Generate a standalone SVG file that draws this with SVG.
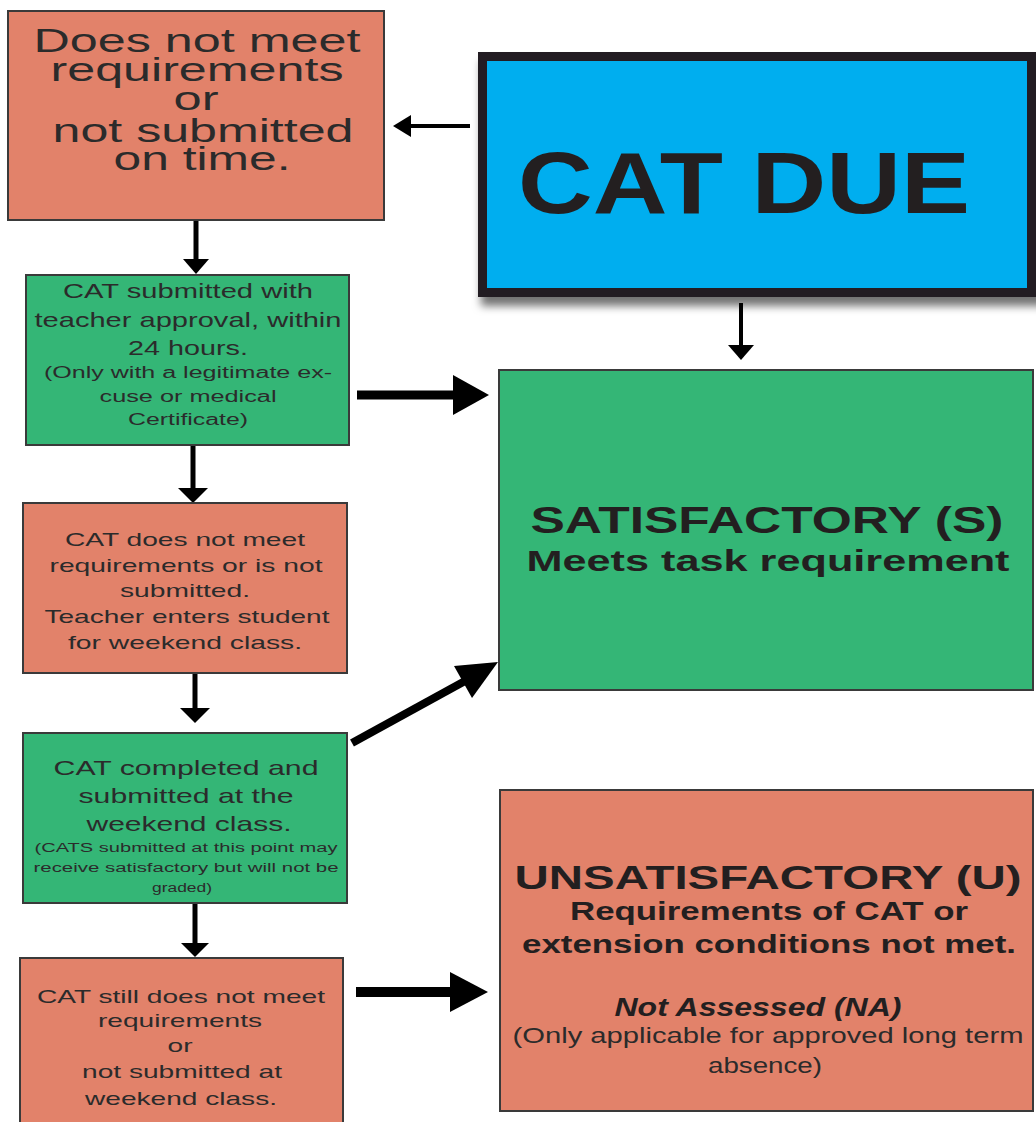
<svg xmlns="http://www.w3.org/2000/svg" width="1036" height="1122" viewBox="0 0 1036 1122">
<defs>
<filter id="shadow" x="-5%" y="-5%" width="115%" height="125%">
<feDropShadow dx="3" dy="9" stdDeviation="4" flood-color="#000" flood-opacity="0.55"/>
</filter>
</defs>
<style>
.salmon{fill:#E2826A;stroke:#3a3a3a;stroke-width:2}
.green{fill:#34B676;stroke:#3a3a3a;stroke-width:2}
text{font-family:"Liberation Sans",Arial,sans-serif;fill:#2b2b2b;text-anchor:middle}
.b{font-weight:bold;fill:#231F20}
.i{font-style:italic}
.ln{stroke:#000;fill:none}
.hd{fill:#000}
</style>
<rect width="1036" height="1122" fill="#fff"/>

<g id="connectors">
<line class="ln" x1="470" y1="126" x2="408" y2="126" stroke-width="4"/>
<polygon class="hd" points="393,126 411,115 411,137"/>
<line class="ln" x1="196" y1="220" x2="196" y2="262" stroke-width="5"/>
<polygon class="hd" points="196,274 183,259 209,259"/>
<line class="ln" x1="357" y1="395" x2="456" y2="395" stroke-width="9"/>
<polygon class="hd" points="489,395 453,375 453,415"/>
<line class="ln" x1="741" y1="303" x2="741" y2="347" stroke-width="4"/>
<polygon class="hd" points="741,360 728,345 754,345"/>
<line class="ln" x1="193" y1="445" x2="193" y2="490" stroke-width="5"/>
<polygon class="hd" points="193,503 178,488 208,488"/>
<line class="ln" x1="195" y1="668" x2="195" y2="710" stroke-width="5"/>
<polygon class="hd" points="195,723 180,708 210,708"/>
<line class="ln" x1="352" y1="743" x2="465" y2="681" stroke-width="8"/>
<polygon class="hd" points="498,662 454,666 472,698"/>
<line class="ln" x1="195" y1="903" x2="195" y2="945" stroke-width="5"/>
<polygon class="hd" points="195,957 181,943 209,943"/>
<line class="ln" x1="356" y1="992" x2="455" y2="992" stroke-width="10"/>
<polygon class="hd" points="488,992 450,972 450,1012"/>
</g>

<g id="node-not-met">
<rect class="salmon" x="8" y="11" width="376" height="209"/>
<text x="197" y="52" font-size="34" textLength="327" lengthAdjust="spacingAndGlyphs">Does not meet</text>
<text x="197" y="81" font-size="34" textLength="293" lengthAdjust="spacingAndGlyphs">requirements</text>
<text x="196" y="110" font-size="34" textLength="45" lengthAdjust="spacingAndGlyphs">or</text>
<text x="203" y="142" font-size="34" textLength="301" lengthAdjust="spacingAndGlyphs">not submitted</text>
<text x="202" y="170" font-size="34" textLength="177" lengthAdjust="spacingAndGlyphs">on time.</text>
</g>

<g id="node-cat-due">
<rect x="478" y="52" width="570" height="245" fill="#231F20" filter="url(#shadow)"/>
<rect x="487" y="61" width="540" height="227" fill="#00AEEF"/>
<text class="b" x="744" y="213" font-size="88" textLength="452" lengthAdjust="spacingAndGlyphs">CAT DUE</text>
</g>

<g id="node-24h">
<rect class="green" x="26" y="275" width="323" height="170"/>
<text x="188" y="298" font-size="21" textLength="250" lengthAdjust="spacingAndGlyphs">CAT submitted with</text>
<text x="188" y="327" font-size="21" textLength="307" lengthAdjust="spacingAndGlyphs">teacher approval, within</text>
<text x="188" y="355" font-size="21" textLength="120" lengthAdjust="spacingAndGlyphs">24 hours.</text>
<text x="188" y="378" font-size="16" textLength="288" lengthAdjust="spacingAndGlyphs">(Only with a legitimate ex-</text>
<text x="188" y="402" font-size="16" textLength="177" lengthAdjust="spacingAndGlyphs">cuse or medical</text>
<text x="188" y="425" font-size="16" textLength="120" lengthAdjust="spacingAndGlyphs">Certificate)</text>
</g>

<g id="node-satisfactory">
<rect class="green" x="499" y="370" width="534" height="320"/>
<text class="b" x="767" y="533" font-size="37" textLength="473" lengthAdjust="spacingAndGlyphs">SATISFACTORY (S)</text>
<text class="b" x="768" y="571" font-size="30" textLength="483" lengthAdjust="spacingAndGlyphs">Meets task requirement</text>
</g>

<g id="node-weekend-entry">
<rect class="salmon" x="23" y="503" width="324" height="170"/>
<text x="185" y="546" font-size="19" textLength="240" lengthAdjust="spacingAndGlyphs">CAT does not meet</text>
<text x="186" y="572" font-size="19" textLength="273" lengthAdjust="spacingAndGlyphs">requirements or is not</text>
<text x="185" y="597" font-size="19" textLength="130" lengthAdjust="spacingAndGlyphs">submitted.</text>
<text x="187" y="623" font-size="19" textLength="285" lengthAdjust="spacingAndGlyphs">Teacher enters student</text>
<text x="185" y="649" font-size="19" textLength="234" lengthAdjust="spacingAndGlyphs">for weekend class.</text>
</g>

<g id="node-weekend-done">
<rect class="green" x="23" y="733" width="324" height="170"/>
<text x="186" y="775" font-size="21" textLength="265" lengthAdjust="spacingAndGlyphs">CAT completed and</text>
<text x="186" y="803" font-size="21" textLength="215" lengthAdjust="spacingAndGlyphs">submitted at the</text>
<text x="189" y="831" font-size="21" textLength="205" lengthAdjust="spacingAndGlyphs">weekend class.</text>
<text x="186" y="852" font-size="12.5" textLength="303" lengthAdjust="spacingAndGlyphs">(CATS submitted at this point may</text>
<text x="186" y="872" font-size="12.5" textLength="305" lengthAdjust="spacingAndGlyphs">receive  satisfactory but will not be</text>
<text x="182" y="892" font-size="12.5" textLength="60" lengthAdjust="spacingAndGlyphs">graded)</text>
</g>

<g id="node-still-not-met">
<rect class="salmon" x="20" y="958" width="323" height="180"/>
<text x="181" y="1003" font-size="19" textLength="288" lengthAdjust="spacingAndGlyphs">CAT still does not meet</text>
<text x="180" y="1027" font-size="19" textLength="164" lengthAdjust="spacingAndGlyphs">requirements</text>
<text x="180" y="1052" font-size="19" textLength="25" lengthAdjust="spacingAndGlyphs">or</text>
<text x="182" y="1078" font-size="19" textLength="200" lengthAdjust="spacingAndGlyphs">not submitted at</text>
<text x="181" y="1105" font-size="19" textLength="192" lengthAdjust="spacingAndGlyphs">weekend class.</text>
</g>

<g id="node-unsatisfactory">
<rect class="salmon" x="500" y="790" width="533" height="321"/>
<text class="b" x="768" y="889" font-size="34" textLength="507" lengthAdjust="spacingAndGlyphs">UNSATISFACTORY (U)</text>
<text class="b" x="769" y="920" font-size="26" textLength="398" lengthAdjust="spacingAndGlyphs">Requirements of CAT or</text>
<text class="b" x="769" y="953" font-size="26" textLength="494" lengthAdjust="spacingAndGlyphs">extension conditions not met.</text>
<text class="b i" x="758" y="1016" font-size="26" textLength="287" lengthAdjust="spacingAndGlyphs">Not Assessed (NA)</text>
<text x="768" y="1043" font-size="22" textLength="511" lengthAdjust="spacingAndGlyphs">(Only applicable for approved long term</text>
<text x="765" y="1073" font-size="22" textLength="114" lengthAdjust="spacingAndGlyphs">absence)</text>
</g>
</svg>
